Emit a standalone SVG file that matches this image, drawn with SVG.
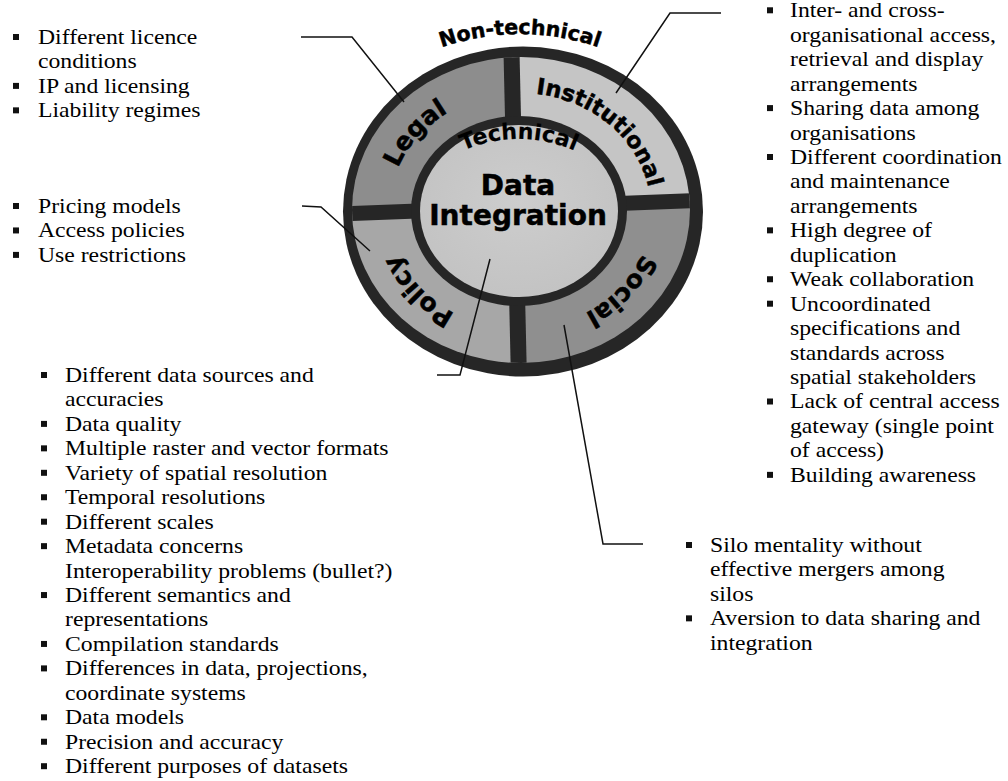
<svg xmlns="http://www.w3.org/2000/svg" xmlns:xlink="http://www.w3.org/1999/xlink" width="1008" height="781" viewBox="0 0 1008 781">
<style>
.lst{font-family:"Liberation Serif","Times New Roman",serif;font-size:20px;fill:#000;}
.lab{font-family:"DejaVu Sans","Liberation Sans",Arial,sans-serif;font-weight:bold;fill:#000;stroke:#000;stroke-width:0.5;}
.seglab{font-size:25px;}
.conn{fill:none;stroke:#111;stroke-width:1.5;stroke-linejoin:miter;}
.dark{fill:#262626;}
.gap{stroke:#262626;fill:none;}
</style>
<defs>
<rect id="bl" x="0" y="0" width="6" height="6" fill="#111"/>
<clipPath id="segclip"><ellipse cx="521" cy="210" rx="169" ry="153"/></clipPath>
<path id="labpath" d="M 389,211 A 131 118 0 1 1 651,211 A 131 118 0 1 1 389,211"/>
<path id="techpath" d="M 430,171.5 A 138 138 0 0 1 608,171.5"/>
<path id="ntpath" d="M 420,56 A 240 240 0 0 1 620,56"/>
<radialGradient id="innerg" cx="0.5" cy="0.45" r="0.6">
<stop offset="0" stop-color="#cdcdcd"/>
<stop offset="1" stop-color="#c2c2c2"/>
</radialGradient>
</defs>
<rect width="1008" height="781" fill="#ffffff"/>

<g id="wheel">
<ellipse class="dark" cx="523" cy="211.5" rx="180" ry="165"/>
<g clip-path="url(#segclip)">
<polygon id="seg-legal" points="330,30 510.8,30 515,207 330,214.4" fill="#8d8d8d"/>
<polygon id="seg-institutional" points="510.8,30 720,30 720,199.6 515,207" fill="#c5c5c5"/>
<polygon id="seg-social" points="515,207 720,199.6 720,390 519.2,390" fill="#8f8f8f"/>
<polygon id="seg-policy" points="330,214.4 515,207 519.2,390 330,390" fill="#a7a7a7"/>
<line class="gap" x1="511" y1="30" x2="519.2" y2="390" stroke-width="16"/>
<line class="gap" x1="330" y1="214.4" x2="720" y2="199.6" stroke-width="15"/>
</g>
<ellipse class="dark" cx="519" cy="211" rx="108" ry="95"/>
<ellipse cx="519" cy="211" rx="99" ry="86" fill="url(#innerg)"/>
</g>

<g id="node-nontechnical">
<text class="lab" font-size="20.5"><textPath href="#ntpath" startOffset="50%" text-anchor="middle">Non-technical</textPath></text>
</g>
<g id="node-legal">
<text class="lab seglab"><textPath href="#labpath" startOffset="10.5%" text-anchor="middle">Legal</textPath></text>
</g>
<g id="node-institutional">
<text class="lab" font-size="22.5"><textPath href="#labpath" startOffset="37%" text-anchor="middle">Institutional</textPath></text>
</g>
<g id="node-social">
<text class="lab seglab"><textPath href="#labpath" startOffset="61%" text-anchor="middle">Social</textPath></text>
</g>
<g id="node-policy">
<text class="lab seglab"><textPath href="#labpath" startOffset="89%" text-anchor="middle">Policy</textPath></text>
</g>
<g id="node-data-integration">
<text class="lab" font-size="22" style="stroke-width:0.2"><textPath href="#techpath" startOffset="50%" text-anchor="middle">Technical</textPath></text>
<text class="lab" font-size="28" x="518" y="195" text-anchor="middle">Data</text>
<text class="lab" font-size="28" x="518" y="225" text-anchor="middle">Integration</text>
</g>

<g id="connectors">
<polyline class="conn" points="301,37 352,37 404,102"/>
<polyline class="conn" points="721,13 670,13 616,93"/>
<polyline class="conn" points="302,206 321,207 370,251"/>
<polyline class="conn" points="437,375 460,375 490,259"/>
<polyline class="conn" points="564,325 603,544 643,544"/>
</g>

<g id="list-legal">
<use href="#bl" x="13" y="34"/>
<use href="#bl" x="13" y="82.9"/>
<use href="#bl" x="13" y="107.35"/>
<text class="lst" transform="matrix(1.185,0,0,1,38,0)">
<tspan x="0" y="44">Different licence</tspan>
<tspan x="0" y="68.45">conditions</tspan>
<tspan x="0" y="92.9">IP and licensing</tspan>
<tspan x="0" y="117.35">Liability regimes</tspan>
</text>
</g>

<g id="list-policy">
<use href="#bl" x="13" y="203"/>
<use href="#bl" x="13" y="227.45"/>
<use href="#bl" x="13" y="251.9"/>
<text class="lst" transform="matrix(1.185,0,0,1,38,0)">
<tspan x="0" y="213">Pricing models</tspan>
<tspan x="0" y="237.45">Access policies</tspan>
<tspan x="0" y="261.9">Use restrictions</tspan>
</text>
</g>

<g id="list-technical">
<use href="#bl" x="41" y="372"/>
<use href="#bl" x="41" y="420.9"/>
<use href="#bl" x="41" y="445.35"/>
<use href="#bl" x="41" y="469.8"/>
<use href="#bl" x="41" y="494.25"/>
<use href="#bl" x="41" y="518.7"/>
<use href="#bl" x="41" y="543.15"/>
<use href="#bl" x="41" y="592.05"/>
<use href="#bl" x="41" y="640.95"/>
<use href="#bl" x="41" y="665.4"/>
<use href="#bl" x="41" y="714.3"/>
<use href="#bl" x="41" y="738.75"/>
<use href="#bl" x="41" y="763.2"/>
<text class="lst" transform="matrix(1.185,0,0,1,65,0)">
<tspan x="0" y="382">Different data sources and</tspan>
<tspan x="0" y="406.45">accuracies</tspan>
<tspan x="0" y="430.9">Data quality</tspan>
<tspan x="0" y="455.35">Multiple raster and vector formats</tspan>
<tspan x="0" y="479.8">Variety of spatial resolution</tspan>
<tspan x="0" y="504.25">Temporal resolutions</tspan>
<tspan x="0" y="528.7">Different scales</tspan>
<tspan x="0" y="553.15">Metadata concerns</tspan>
<tspan x="0" y="577.6">Interoperability problems (bullet?)</tspan>
<tspan x="0" y="602.05">Different semantics and</tspan>
<tspan x="0" y="626.5">representations</tspan>
<tspan x="0" y="650.95">Compilation standards</tspan>
<tspan x="0" y="675.4">Differences in data, projections,</tspan>
<tspan x="0" y="699.85">coordinate systems</tspan>
<tspan x="0" y="724.3">Data models</tspan>
<tspan x="0" y="748.75">Precision and accuracy</tspan>
<tspan x="0" y="773.2">Different purposes of datasets</tspan>
</text>
</g>

<g id="list-institutional">
<use href="#bl" x="767" y="7.3"/>
<use href="#bl" x="767" y="105.1"/>
<use href="#bl" x="767" y="154"/>
<use href="#bl" x="767" y="227.35"/>
<use href="#bl" x="767" y="276.25"/>
<use href="#bl" x="767" y="300.7"/>
<use href="#bl" x="767" y="398.5"/>
<use href="#bl" x="767" y="471.85"/>
<text class="lst" transform="matrix(1.185,0,0,1,790,0)">
<tspan x="0" y="17.3">Inter- and cross-</tspan>
<tspan x="0" y="41.75">organisational access,</tspan>
<tspan x="0" y="66.2">retrieval and display</tspan>
<tspan x="0" y="90.65">arrangements</tspan>
<tspan x="0" y="115.1">Sharing data among</tspan>
<tspan x="0" y="139.55">organisations</tspan>
<tspan x="0" y="164">Different coordination</tspan>
<tspan x="0" y="188.45">and maintenance</tspan>
<tspan x="0" y="212.9">arrangements</tspan>
<tspan x="0" y="237.35">High degree of</tspan>
<tspan x="0" y="261.8">duplication</tspan>
<tspan x="0" y="286.25">Weak collaboration</tspan>
<tspan x="0" y="310.7">Uncoordinated</tspan>
<tspan x="0" y="335.15">specifications and</tspan>
<tspan x="0" y="359.6">standards across</tspan>
<tspan x="0" y="384.05">spatial stakeholders</tspan>
<tspan x="0" y="408.5">Lack of central access</tspan>
<tspan x="0" y="432.95">gateway (single point</tspan>
<tspan x="0" y="457.4">of access)</tspan>
<tspan x="0" y="481.85">Building awareness</tspan>
</text>
</g>

<g id="list-social">
<use href="#bl" x="686" y="542"/>
<use href="#bl" x="686" y="615.35"/>
<text class="lst" transform="matrix(1.185,0,0,1,710,0)">
<tspan x="0" y="552">Silo mentality without</tspan>
<tspan x="0" y="576.45">effective mergers among</tspan>
<tspan x="0" y="600.9">silos</tspan>
<tspan x="0" y="625.35">Aversion to data sharing and</tspan>
<tspan x="0" y="649.8">integration</tspan>
</text>
</g>
</svg>
